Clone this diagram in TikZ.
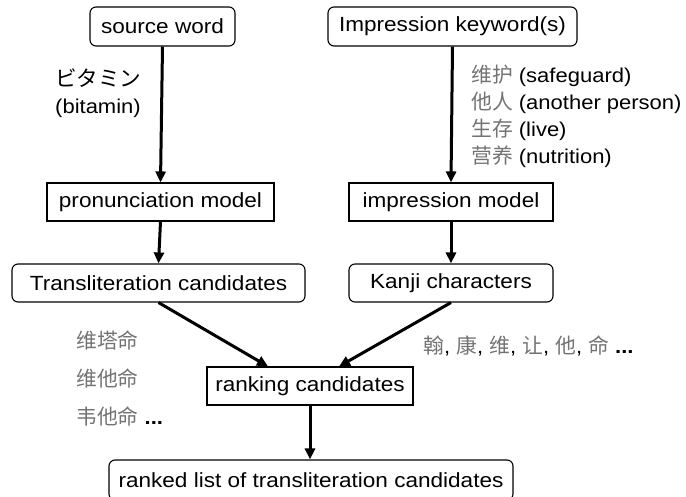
\documentclass[tikz,border=0pt]{standalone}
\usepackage{fontspec}
\setmainfont{Liberation Sans}[FakeStretch=1.1]
\newfontfamily\cjk[Scale=1.04]{Noto Sans CJK SC}
\newfontfamily\jpf[Scale=1.08]{Noto Sans CJK JP}
\usetikzlibrary{arrows.meta}
\begin{document}
\begin{tikzpicture}[x=1pt,y=-1pt,
  box/.style={draw,line width=1.1pt,inner sep=0pt,font=\fontsize{20.5}{22}\selectfont},
  rbox/.style={box,rounded corners=6pt},
  arr/.style={line width=3pt,-{Triangle[length=11pt,width=10pt]}},
  lab/.style={font=\fontsize{20}{27}\selectfont,inner sep=0pt,align=left},
  zh/.style={text=black!55}]
\useasboundingbox (0,0) rectangle (686,497);
\node[rbox,minimum width=145pt,minimum height=39pt] (src) at (162.5,26.5) {source word};
\node[rbox,minimum width=249pt,minimum height=39pt] (imp) at (452.5,26.5) {Impression keyword(s)};
\node[box,minimum width=227pt,minimum height=38pt] (pm) at (160.5,202) {pronunciation model};
\node[box,minimum width=204pt,minimum height=38pt] (im) at (451,202) {impression model};
\node[rbox,minimum width=293pt,minimum height=38pt] (tc) at (158.5,283) {Transliteration candidates};
\node[rbox,minimum width=204pt,minimum height=38pt] (kc) at (451,283) {Kanji characters};
\node[box,minimum width=206pt,minimum height=38pt] (rc) at (310,386) {ranking candidates};
\node[rbox,minimum width=404pt,minimum height=40pt] (rl) at (311,480) {ranked list of transliteration candidates};
\draw[arr] (src.south) -- (pm.north);
\draw[arr] (imp.south) -- (im.north);
\draw[arr] (pm.south) -- (tc.south |- tc.north);
\draw[arr] (im.south) -- (kc.north);
\draw[arr] (tc.south) -- ([xshift=-42pt]rc.north);
\draw[arr] (kc.south) -- ([xshift=29pt]rc.north);
\draw[arr] (rc.south) -- (rl.north -| rc.south);
\node[lab,anchor=north west] (l1) at (55,69) {{\jpf ビタミン}\\(bitamin)};
\node[lab,anchor=north west] (l2) at (471,65) {{\cjk\color{black!55}维护} (safeguard)\\{\cjk\color{black!55}他人} (another person)\\{\cjk\color{black!55}生存} (live)\\{\cjk\color{black!55}营养} (nutrition)};
\node[lab,anchor=west,zh] (c1) at (76,340) {\cjk 维塔命};
\node[lab,anchor=west,zh] (c2) at (76,378) {\cjk 维他命};
\node[lab,anchor=west] (c3) at (76,416) {{\cjk\color{black!55}韦他命} \textbf{...}};
\node[lab,anchor=west] (k1) at (423,346) {{\cjk\color{black!55}翰}, {\cjk\color{black!55}康}, {\cjk\color{black!55}维}, {\cjk\color{black!55}让}, {\cjk\color{black!55}他}, {\cjk\color{black!55}命} \textbf{...}};
\end{tikzpicture}
\end{document}
